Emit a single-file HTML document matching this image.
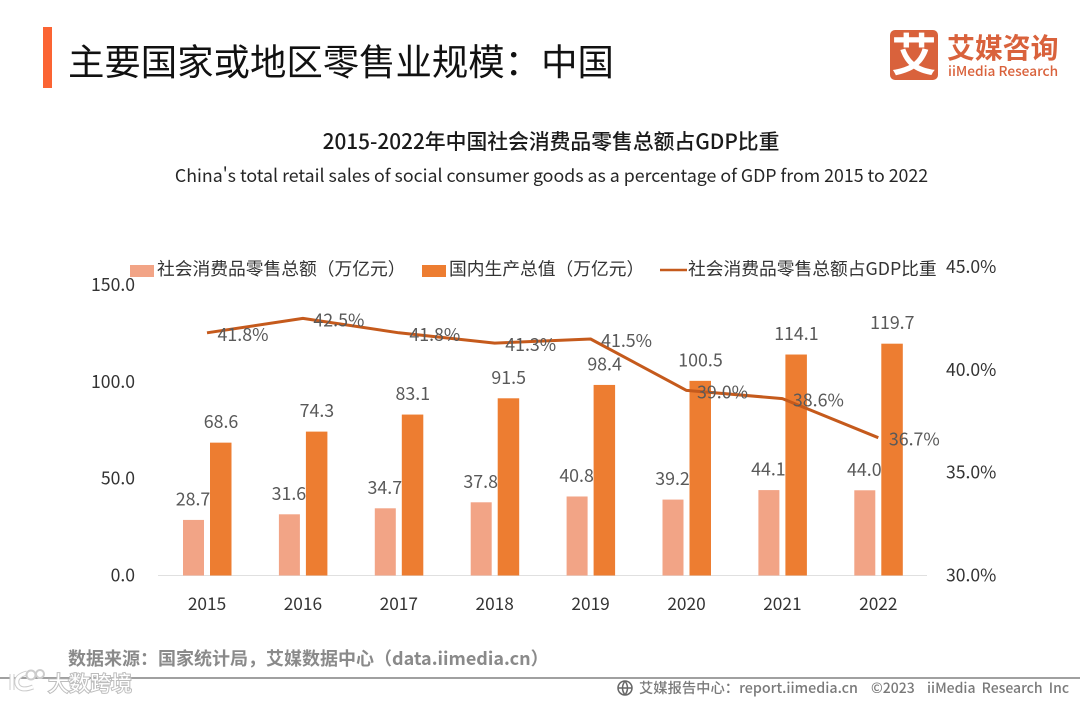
<!DOCTYPE html>
<html lang="zh">
<head>
<meta charset="utf-8">
<title>主要国家或地区零售业规模&#xFF1A;中国</title>
<style>
html,body{margin:0;padding:0;background:#fff;}
body{width:1080px;height:702px;overflow:hidden;position:relative;}
svg{display:block;position:absolute;left:0;top:0;}
text{font-family:"Noto Sans CJK SC","Liberation Sans",sans-serif;}
</style>
</head>
<body>
<svg id="slide" width="1080" height="702" viewBox="0 0 1080 702" xmlns="http://www.w3.org/2000/svg">
  <rect x="43" y="27" width="9" height="61" fill="#fb6433"/>
  <text x="68" y="75" font-size="36.4" fill="#111">主要国家或地区零售业规模&#xFF1A;中国</text>

  <g>
    <rect x="890" y="30" width="48" height="50" rx="5" fill="#d9623c"/>
    <text x="914" y="71" font-size="45" font-weight="700" fill="#fff" text-anchor="middle">艾</text>
    <text x="947" y="58" font-size="27.9" font-weight="700" fill="#d9623c">艾媒咨询</text>
    <text x="948" y="76" font-size="13.7" font-weight="500" fill="#d9623c">iiMedia Research</text>
  </g>

  <text x="551" y="149" font-size="20.8" font-weight="500" fill="#1a1a1a" text-anchor="middle">2015-2022年中国社会消费品零售总额占GDP比重</text>
  <text x="551.5" y="182" font-size="17.75" fill="#262626" text-anchor="middle">China's total retail sales of social consumer goods as a percentage of GDP from 2015 to 2022</text>

  <g>
    <rect x="130" y="265" width="24" height="12" fill="#f2a486"/>
    <text x="157" y="275" font-size="17.75" fill="#333">社会消费品零售总额&#xFF08;万亿元&#xFF09;</text>
    <rect x="422" y="265" width="24" height="12" fill="#ed7d31"/>
    <text x="449" y="275" font-size="17.75" fill="#333">国内生产总值&#xFF08;万亿元&#xFF09;</text>
    <line x1="660" y1="270" x2="687" y2="270" stroke="#c55a1c" stroke-width="2.5"/>
    <text x="688" y="275" font-size="17.75" fill="#333">社会消费品零售总额占GDP比重</text>
  </g>

  <g id="chart"></g>

  <text x="68" y="665" font-size="18" font-weight="700" fill="#8a8a8a">数据来源&#xFF1A;国家统计局&#xFF0C;艾媒数据中心&#xFF08;data.iimedia.cn&#xFF09;</text>
  <line x1="0" y1="678" x2="1080" y2="678" stroke="#808080" stroke-width="1.5"/>

  <g>
    <path d="M12 674 v16 M27 673 q-12 3 -10 11 q3 8 16 3" fill="none" stroke="#ccc" stroke-width="5"/>
    <path d="M12 674 v16 M27 673 q-12 3 -10 11 q3 8 16 3" fill="none" stroke="#fff" stroke-width="3"/>
    <circle cx="31" cy="675" r="4.5" fill="#fff" stroke="#ccc" stroke-width="2"/>
    <circle cx="40" cy="674" r="4" fill="#fff" stroke="#ccc" stroke-width="2"/>
    <text x="48" y="691" font-size="21" fill="#fff" stroke="#bdbdbd" stroke-width="2" paint-order="stroke">大数跨境</text>
  </g>

  <g fill="none" stroke="#666" stroke-width="1.5">
    <circle cx="625" cy="688" r="7"/>
    <path d="M618 688 h14 M625 681 q-5 7 0 14 M625 681 q5 7 0 14"/>
  </g>
  <text x="639" y="693" font-size="14.3" font-weight="500" fill="#7a7a7a">艾媒报告中心&#xFF1A;report.iimedia.cn</text>
  <text x="871" y="693" font-size="14" font-weight="500" fill="#7a7a7a">©2023</text>
  <text x="927" y="693" font-size="14" font-weight="500" fill="#7a7a7a" word-spacing="3">iiMedia Research Inc</text>
</svg>
<script>
const categories = ['2015', '2016', '2017', '2018', '2019', '2020', '2021', '2022'];
const retailSales = [28.7, 31.6, 34.7, 37.8, 40.8, 39.2, 44.1, 44.0];
const gdp = [68.6, 74.3, 83.1, 91.5, 98.4, 100.5, 114.1, 119.7];
const sharePct = [41.8, 42.5, 41.8, 41.3, 41.5, 39.0, 38.6, 36.7];
const leftTicks = [0, 50, 100, 150];
const rightTicks = [30, 35, 40, 45];

const NS = 'http://www.w3.org/2000/svg';
const chart = document.getElementById('chart');
const xScale = i => 207 + i * 95.9;
const yLeft = v => 575.5 - v * (290.5 / 150);
const yRight = v => 575.5 - (v - 30) * (308.5 / 15);

function make(tag, attrs, text) {
  const el = document.createElementNS(NS, tag);
  for (const k in attrs) el.setAttribute(k, attrs[k]);
  if (text !== undefined) el.textContent = text;
  chart.appendChild(el);
  return el;
}

const axisLine = make('line', {x1: 158, x2: 927, y1: 575.5, y2: 575.5, stroke: '#e0e0e0', 'stroke-width': 1});



leftTicks.forEach(t => {
  const el = make('text', {x: 135, y: yLeft(t) + 6, 'font-size': 17.6, fill: '#333', 'text-anchor': 'end'}, t.toFixed(1));
  
  
});
rightTicks.forEach(t => {
  const el = make('text', {x: 946, y: yRight(t) + 6, 'font-size': 17.6, fill: '#333'}, t.toFixed(1) + '%');
  
  
});

categories.forEach((c, i) => {
  const cx = xScale(i);

  const lightBar = make('rect', {x: cx - 24, y: yLeft(retailSales[i]), width: 21, height: 575.5 - yLeft(retailSales[i]), fill: '#f2a486'});
  
  

  const darkBar = make('rect', {x: cx + 3, y: yLeft(gdp[i]), width: 21.5, height: 575.5 - yLeft(gdp[i]), fill: '#ed7d31'});
  
  

  const xLabel = make('text', {x: cx, y: 610, 'font-size': 17.3, fill: '#333', 'text-anchor': 'middle'}, c);
  
  
});

const linePts = sharePct.map((v, i) => xScale(i) + ',' + yRight(v).toFixed(1)).join(' ');
const shareLine = make('polyline', {points: linePts, fill: 'none', stroke: '#c55a1c', 'stroke-width': 3, 'stroke-linejoin': 'round'});



categories.forEach((c, i) => {
  const cx = xScale(i);

  const lightLabel = make('text', {x: cx - 14, y: yLeft(retailSales[i]) - 14.5, 'font-size': 17.8, fill: '#595959', 'text-anchor': 'middle'}, retailSales[i].toFixed(1));
  
  

  const darkLabel = make('text', {x: cx + 14, y: yLeft(gdp[i]) - 14.5, 'font-size': 17.8, fill: '#595959', 'text-anchor': 'middle'}, gdp[i].toFixed(1));
  
  

  const pctLabel = make('text', {x: cx + 36, y: yRight(sharePct[i]) + 8, 'font-size': 17.8, fill: '#595959', 'text-anchor': 'middle'}, sharePct[i].toFixed(1) + '%');
  
  
});
</script>
</body>
</html>
